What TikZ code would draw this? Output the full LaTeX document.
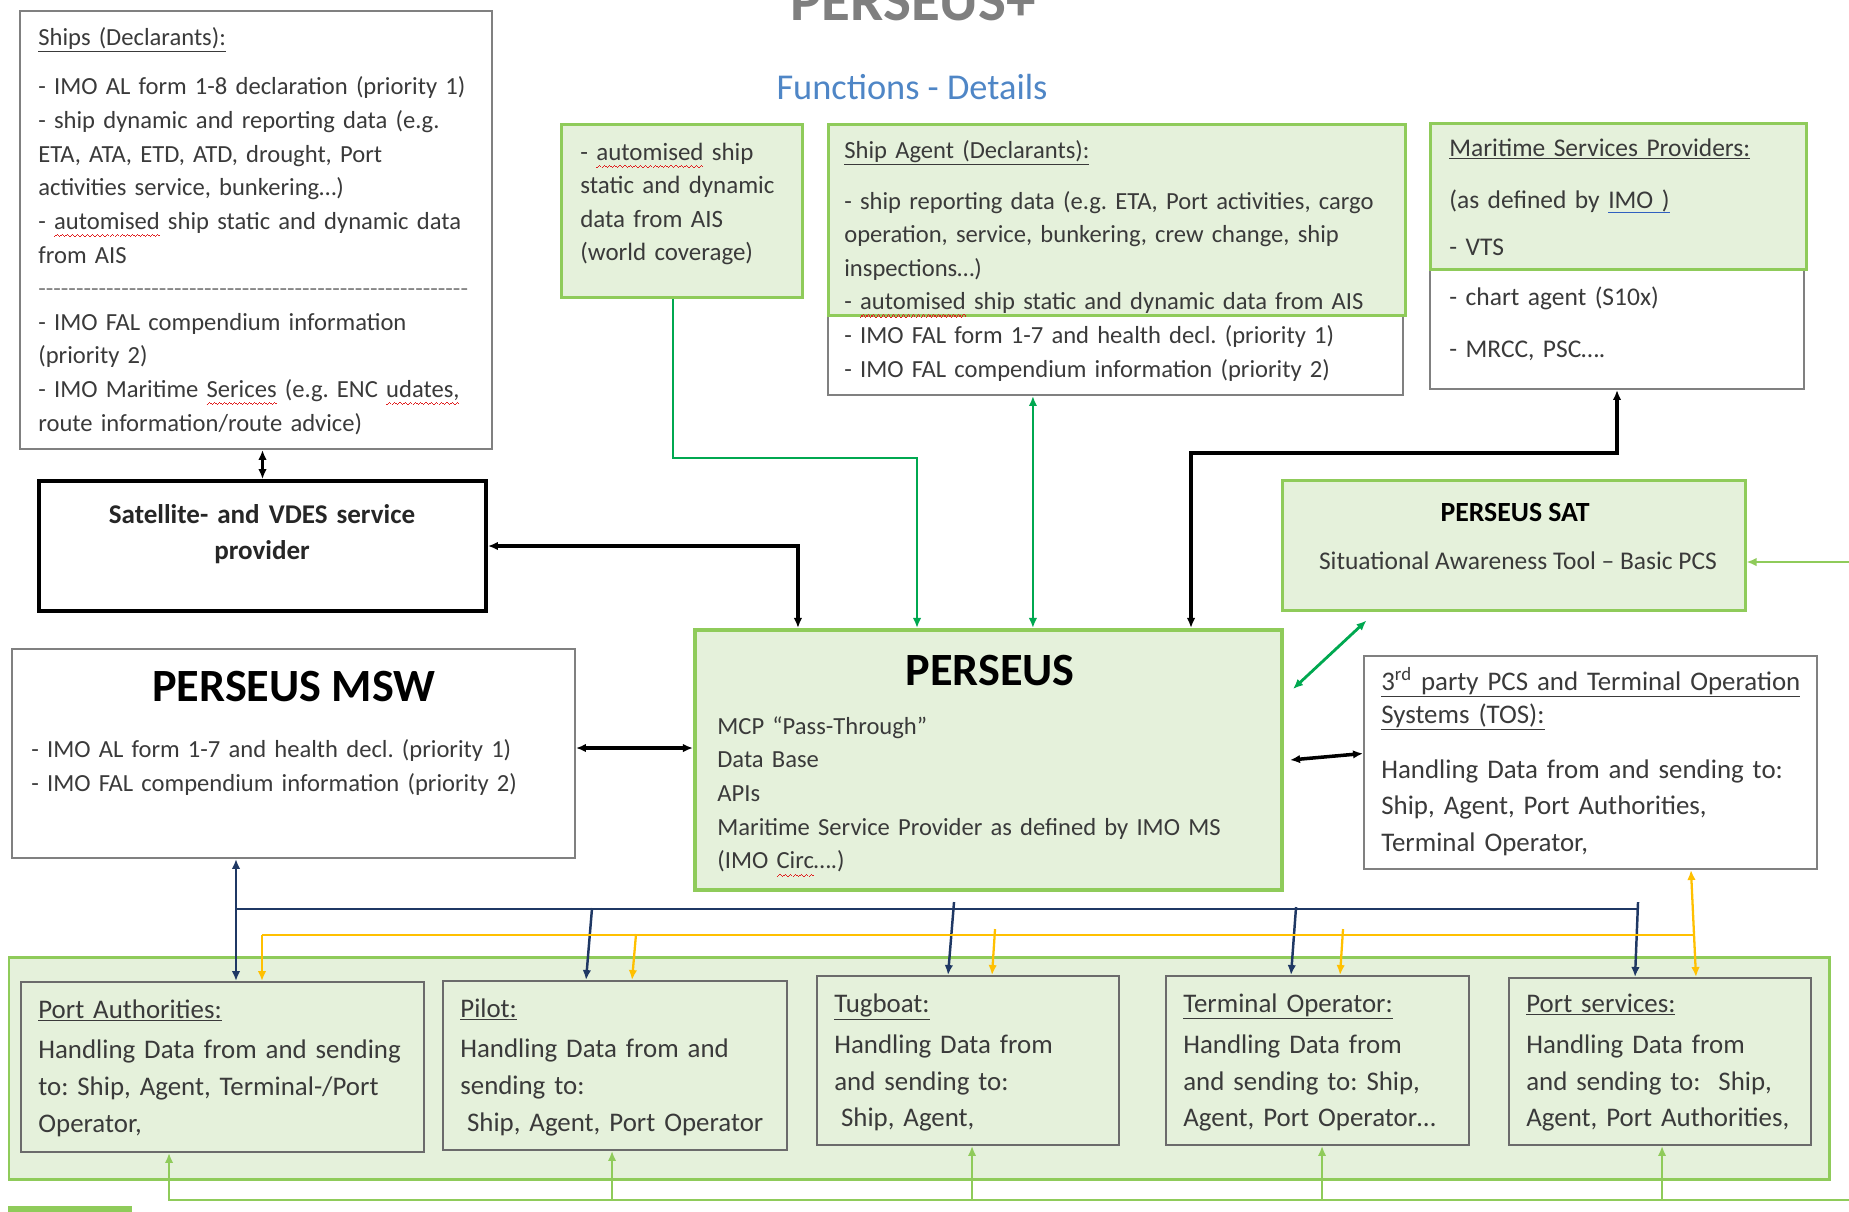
\documentclass[tikz,border=0pt]{standalone}
\usepackage{fontspec}
\setmainfont{Carlito}
\usetikzlibrary{arrows.meta,fit,calc}
\frenchspacing
\hyphenpenalty=10000
\exhyphenpenalty=10000

\definecolor{boxfill}{HTML}{E5F1DB}
\definecolor{boxline}{HTML}{8FCB5A}
\definecolor{linkgreen}{HTML}{00A850}
\definecolor{navyline}{HTML}{1F3864}
\definecolor{amberline}{HTML}{FFC000}
\definecolor{grayline}{HTML}{808080}
\definecolor{darkline}{HTML}{6B6B6B}
\definecolor{bodytext}{HTML}{3A3A3A}
\definecolor{titlegray}{HTML}{7F7F7F}
\definecolor{titleblue}{HTML}{4F86C6}
\definecolor{spellred}{HTML}{E02020}
\definecolor{gramblue}{HTML}{3060C0}

% spelling marks as in the original screenshot
\newcommand\wavebit{\hbox{\rule[-4.4pt]{0.7pt}{0.6pt}\rule[-3.8pt]{0.7pt}{0.6pt}\rule[-3.2pt]{0.7pt}{0.6pt}\rule[-3.8pt]{0.7pt}{0.6pt}}}
\newcommand\redwave[1]{\leavevmode\setbox0\hbox{#1}\rlap{\textcolor{spellred}{\hbox to \wd0{\xleaders\wavebit\hfill}}}\box0\relax}
\newcommand\blueul[1]{\leavevmode\setbox0\hbox{#1}\rlap{\textcolor{gramblue}{\rule[-3pt]{\wd0}{0.8pt}}}\box0\relax}

\begin{document}
\begin{tikzpicture}[x=0.02cm, y=0.02cm, >={Latex[length=0.2cm,width=0.17cm]},
  whitebox/.style={draw=grayline, line width=1.1pt, fill=white, inner sep=0pt},
  greenbox/.style={draw=boxline, line width=1.7pt, fill=boxfill, inner sep=0pt},
  innerbox/.style={draw=darkline, line width=1.1pt, fill=boxfill, inner sep=0pt},
  txt/.style={anchor=base west, inner sep=0pt, align=left, text=bodytext, text width=9.5cm, font=\fontsize{14}{19.13}\selectfont},
  bigtxt/.style={txt, font=\fontsize{15.3}{20.8}\selectfont},
  headtxt/.style={anchor=base, inner sep=0pt, text=black, font=\bfseries\fontsize{26.3}{30}\selectfont},
  blk/.style={draw=black, line width=2pt},
  dgreen/.style={draw=linkgreen, line width=1.6pt},
  lgreen/.style={draw=boxline, line width=1.1pt},
  navy/.style={draw=navyline, line width=1.4pt},
  amber/.style={draw=amberline, line width=1.3pt}]

  \useasboundingbox (0,0) rectangle (1849,-1211);

  % Title
  \node[anchor=base, inner sep=0pt, text=titlegray, font=\bfseries\fontsize{33.6}{40}\selectfont] (title) at (913,-20) {PERSEUS+};
  \node[anchor=base, inner sep=0pt, text=titleblue, font=\fontsize{20.7}{25}\selectfont] (subtitle) at (912,-99) {Functions - Details};

  % Ships
  \node[whitebox, fit={(20,-11)(492,-449)}] (ships) {};
  \node[txt] (shipstxt) at (38,-45) {\underline{Ships (Declarants):}\\[9.3pt]
    - IMO AL form 1-8 declaration (priority 1)\\
    - ship dynamic and reporting data (e.g.\\
    ETA, ATA, ETD, ATD, drought, Port\\
    activities service, bunkering…)\\
    - \redwave{automised} ship static and dynamic data\\
    from AIS\\
    \leavevmode{\color{grayline}\hbox to 8.6cm{\xleaders\hbox{-}\hfill}}\\
    - IMO FAL compendium information\\
    (priority 2)\\
    - IMO Maritime \redwave{Serices} (e.g. ENC \redwave{udates,}\\
    route information/route advice)};

  % AIS
  \node[greenbox, fit={(561,-124)(802,-297)}] (ais) {};
  \node[txt, text width=4.6cm, font=\fontsize{14.2}{19.13}\selectfont] (aistxt) at (580,-160) {- \redwave{automised} ship\\static and dynamic\\data from AIS\\(world coverage)};

  % Ship agent
  \node[whitebox, fit={(828,-315)(1403,-395)}] (agentlow) {};
  \node[greenbox, fit={(828,-124)(1405,-315)}] (agent) {};
  \node[txt, text width=12cm] (agenttxt) at (844,-158) {\underline{Ship Agent (Declarants):}\\[9.9pt]
    - ship reporting data (e.g. ETA, Port activities, cargo\\
    operation, service, bunkering, crew change, ship\\
    inspections…)\\
    - \redwave{automised} ship static and dynamic data from AIS\\
    - IMO FAL form 1-7 and health decl. (priority 1)\\
    - IMO FAL compendium information (priority 2)};

  % Maritime services providers
  \node[whitebox, fit={(1430,-269)(1804,-389)}] (msplow) {};
  \node[greenbox, fit={(1430,-123)(1806,-269)}] (msp) {};
  \node[txt, text width=7cm, font=\fontsize{14.5}{19.13}\selectfont] (msptxt) at (1449,-156) {\underline{Maritime Services Providers:}\\[10.5pt]
    (as defined by \blueul{IMO )}\\[7.6pt]
    - VTS\\[9.4pt]
    - chart agent (S10x)\\[10.5pt]
    - MRCC, PSC….};

  % Satellite provider
  \node[draw=black, line width=2.2pt, fill=white, inner sep=0pt, fit={(39,-481)(486,-611)}] (satprov) {};
  \node[anchor=base, inner sep=0pt, align=center, text width=8cm, text=black!85, font=\bfseries\fontsize{15.4}{20.5}\selectfont] (satprovtxt) at (262,-523) {Satellite- and VDES service\\provider};

  % PERSEUS SAT
  \node[greenbox, fit={(1282,-480)(1745,-610)}] (sattool) {};
  \node[anchor=base, inner sep=0pt, text=black, font=\bfseries\fontsize{15.8}{19}\selectfont] (sattooltitle) at (1515,-521) {PERSEUS SAT};
  \node[anchor=base, inner sep=0pt, text=bodytext, font=\fontsize{14.5}{19}\selectfont] (sattooltxt) at (1518,-569) {Situational Awareness Tool – Basic PCS};

  % PERSEUS MSW
  \node[whitebox, fit={(12,-649)(575,-858)}] (msw) {};
  \node[headtxt] (mswtitle) at (294,-701) {PERSEUS MSW};
  \node[txt, text width=10.8cm, font=\fontsize{14}{19.9}\selectfont] (mswtxt) at (31,-757) {- IMO AL form 1-7 and health decl. (priority 1)\\- IMO FAL compendium information (priority 2)};

  % PERSEUS
  \node[greenbox, line width=2.3pt, fit={(695,-630)(1282,-890)}] (perseus) {};
  \node[headtxt] (perseustitle) at (990,-685) {PERSEUS};
  \node[txt, text width=11.4cm, font=\fontsize{14}{19.2}\selectfont] (perseustxt) at (717,-734) {MCP “Pass-Through”\\Data Base\\APIs\\Maritime Service Provider as defined by IMO MS\\(IMO \redwave{Circ}….)};

  % 3rd party PCS
  \node[whitebox, fit={(1364,-656)(1817,-869)}] (thirdparty) {};
  \node[bigtxt, text width=8.7cm] (thirdtxt) at (1381,-690) {\underline{3\textsuperscript{rd} party PCS and Terminal Operation}\\[-2pt]
    \underline{Systems (TOS):}\\[10.5pt]
    Handling Data from and sending to:\\
    Ship, Agent, Port Authorities,\\
    Terminal Operator,};

  % Port area
  \node[greenbox, fit={(9,-957)(1829,-1179)}] (portarea) {};
  \foreach \name/\xa/\ya/\xb/\yb in {porta/21/982/424/1152, pilot/443/981/787/1150, tugboat/817/976/1119/1145, terminal/1166/976/1469/1145, portserv/1509/978/1811/1145}
    \node[innerbox, fit={(\xa,-\ya)(\xb,-\yb)}] (\name) {};
  \node[bigtxt, text width=7.8cm] (portatxt) at (38,-1018) {\underline{Port Authorities:}\\[2.5pt]Handling Data from and sending\\to: Ship, Agent, Terminal-/Port\\Operator,};
  \node[bigtxt, text width=6.6cm] (pilottxt) at (460,-1017) {\underline{Pilot:}\\[2.5pt]Handling Data from and\\sending to:\\\hspace*{0.25em}Ship, Agent, Port Operator};
  \node[bigtxt, text width=5.8cm] (tugboattxt) at (834,-1012) {\underline{Tugboat:}\\[3pt]Handling Data from\\and sending to:\\\hspace*{0.25em}Ship, Agent,};
  \node[bigtxt, text width=5.8cm] (terminaltxt) at (1183,-1012) {\underline{Terminal Operator:}\\[3pt]Handling Data from\\and sending to: Ship,\\Agent, Port Operator…};
  \node[bigtxt, text width=5.8cm] (portservtxt) at (1526,-1012) {\underline{Port services:}\\[3pt]Handling Data from\\and sending to:\ \ Ship,\\Agent, Port Authorities,};
  \fill[boxline] (8,-1206) rectangle (132,-1230);

  % Connections around PERSEUS
  \draw[blk, <->] (ships.south -| satprov.north) -- (satprov.north);
  \draw[blk, <->] (satprov.east) -| ([xshift=2.1cm]perseus.north west);
  \coordinate (aisbend) at (917,-458);
  \draw[dgreen, ->] ([xshift=-0.17cm]ais.south) |- (aisbend) -- (aisbend |- perseus.north);
  \coordinate (agentpin) at ([xshift=6.8cm]perseus.north west);
  \draw[dgreen, <->] (agentpin |- agentlow.south) -- (agentpin);
  \coordinate (mspbend) at (1191,-453);
  \draw[blk, <->] (mspbend |- perseus.north) -- (mspbend) -| (msplow.south);
  \draw[dgreen, <->] ([xshift=0.18cm,yshift=-1.22cm]perseus.north east) -- ([xshift=1.72cm,yshift=-0.18cm]sattool.south west);
  \coordinate (mswpin) at ([yshift=0.11cm]msw.east);
  \draw[blk, <->] (mswpin) -- (mswpin -| perseus.west);
  \draw[blk, <->] ([xshift=0.12cm]perseus.east) -- ([yshift=0.18cm]thirdparty.west);
  \coordinate (satfeed) at (1849,-562);
  \draw[lgreen, ->] (satfeed) -- (satfeed -| sattool.east);

  % Navy bus
  \coordinate (navyl) at (236,-909);
  \coordinate (navyr) at (1639,-909);
  \draw[navy, <->] (navyl |- msw.south) -- (navyl |- porta.north);
  \draw[navy] (navyl) -- (navyr);
  \foreach \name/\dtop/\dbot/\h in {pilot/150/144/72, tugboat/138/132/73, terminal/131/126/68, portserv/130/127/75}
    \draw[navy, ->] ($(\name.north west)+(\dtop,\h)$) -- ($(\name.north west)+(\dbot,0)$);

  % Amber bus
  \coordinate (amberl) at (262,-935);
  \coordinate (amberr) at (1693,-935);
  \draw[amber] (amberl) -- (amberr);
  \draw[amber, ->] (amberl) -- (amberl |- porta.north);
  \foreach \name/\dtop/\dbot/\h in {pilot/194/190/46, tugboat/179/176/46, terminal/178/175/46}
    \draw[amber, ->] ($(\name.north west)+(\dtop,\h)$) -- ($(\name.north west)+(\dbot,0)$);
  \draw[amber, <->] ([xshift=6.56cm]thirdparty.south west) -- ([xshift=3.76cm]portserv.north west);

  % Green return line
  \coordinate (retl) at (170,-1200);
  \coordinate (retr) at (1849,-1200);
  \draw[lgreen] (retl) -- (retr);
  \foreach \name/\dx/\h in {porta/149/48, pilot/170/50, tugboat/156/55, terminal/157/55, portserv/154/55}
    \draw[lgreen, ->] ($(\name.south west)+(\dx,-\h)$) -- ($(\name.south west)+(\dx,0)$);
\end{tikzpicture}
\end{document}
